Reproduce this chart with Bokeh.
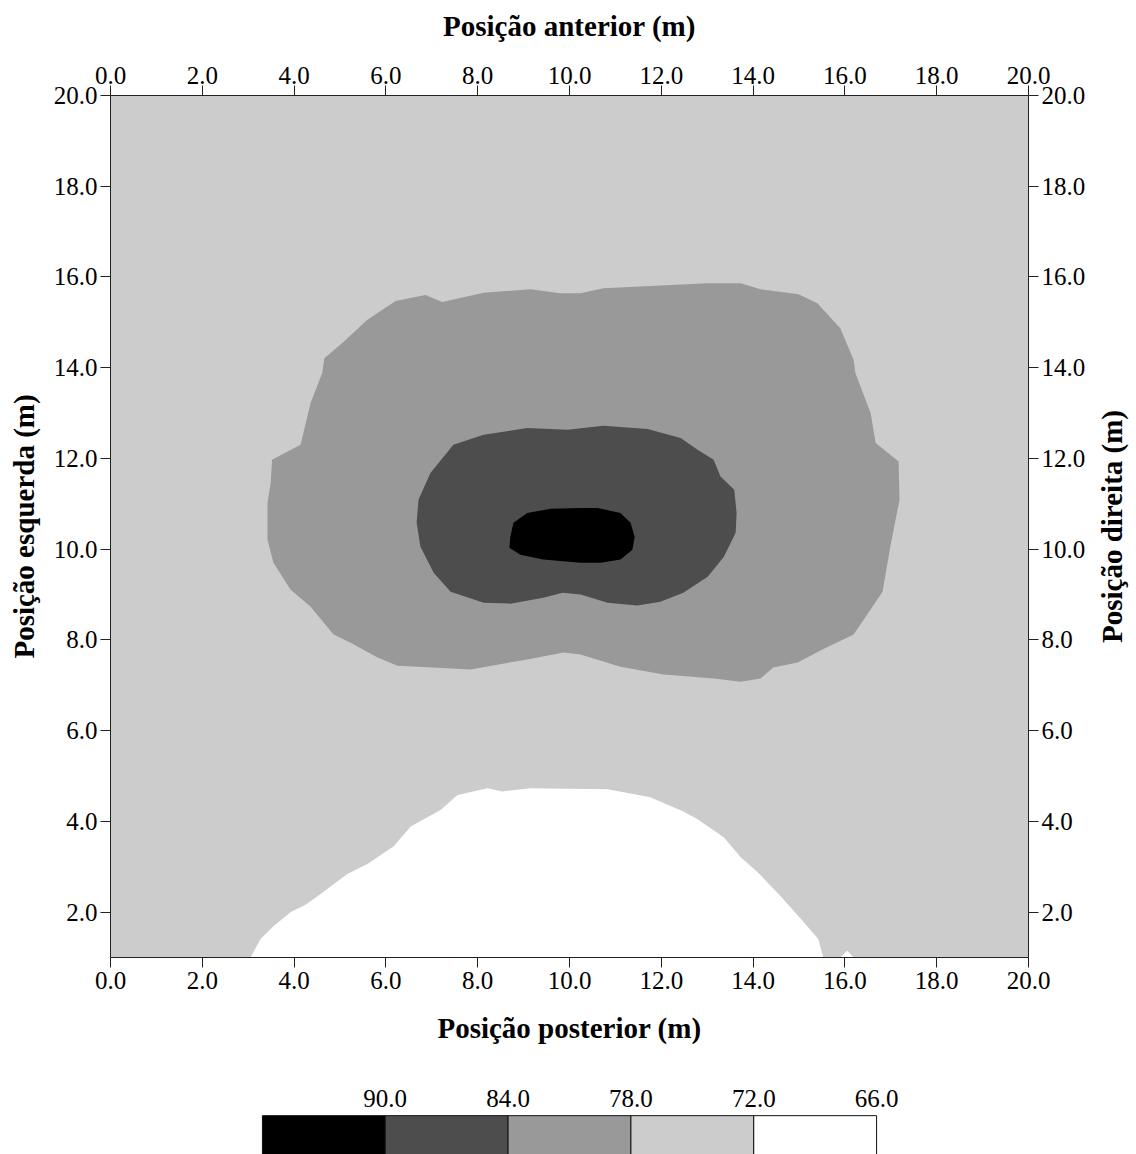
import math
from bokeh.plotting import figure
from bokeh.models import Range1d, LinearAxis, FixedTicker, PrintfTickFormatter
from bokeh.layouts import column, row
from bokeh.core.properties import value
from bokeh.embed import file_html
from bokeh.resources import INLINE

# ---------------- data ----------------
x_ticks = [0, 2, 4, 6, 8, 10, 12, 14, 16, 18, 20]
y_ticks = [2, 4, 6, 8, 10, 12, 14, 16, 18, 20]
x_domain = [0.0, 20.0]
y_domain = [1.0, 20.0]

# contour level colours
c_66_72 = "#ffffff"
c_72_78 = "#cccccc"
c_78_84 = "#999999"
c_84_90 = "#4d4d4d"
c_90_up = "#000000"

# region < 72 (white) boundaries
white_x = [3.05, 3.27, 3.55, 3.92, 4.25, 4.51, 5.16, 5.60, 6.17, 6.54, 7.19, 7.56, 8.21, 8.54,
           9.15, 10.83, 11.76, 12.48, 12.79, 13.36, 13.73, 14.10, 14.60, 15.10, 15.42, 15.53]
white_y = [1.00, 1.41, 1.69, 2.00, 2.16, 2.35, 2.84, 3.06, 3.45, 3.89, 4.25, 4.58, 4.73, 4.66,
           4.73, 4.71, 4.53, 4.22, 4.05, 3.65, 3.21, 2.88, 2.35, 1.78, 1.41, 1.00]
white2_x = [15.90, 16.05, 16.19]
white2_y = [1.00, 1.15, 1.00]

# region 78-84 boundary
mid_x = [3.52, 4.14, 4.36, 4.61, 4.66, 5.08, 5.59, 6.21, 6.86, 7.23, 8.13, 9.15, 9.80, 10.24,
         10.74, 13.01, 13.73, 14.16, 14.99, 15.40, 15.90, 16.19, 16.23, 16.56, 16.67, 17.17,
         17.19, 16.99, 16.82, 16.56, 16.19, 15.51, 14.97, 14.44, 14.16, 13.73, 13.14, 12.05,
         11.11, 10.24, 9.87, 9.08, 7.84, 6.69, 6.25, 5.82, 5.23, 4.86, 4.36, 3.92, 3.55, 3.42,
         3.42, 3.49]
mid_y = [11.97, 12.30, 13.22, 13.88, 14.21, 14.57, 15.05, 15.47, 15.60, 15.45, 15.65, 15.73,
         15.64, 15.64, 15.75, 15.86, 15.86, 15.73, 15.62, 15.42, 14.87, 14.17, 13.88, 13.00,
         12.34, 11.93, 11.09, 10.06, 9.06, 8.67, 8.12, 7.79, 7.50, 7.39, 7.15, 7.08, 7.15, 7.24,
         7.41, 7.68, 7.72, 7.57, 7.35, 7.41, 7.43, 7.61, 7.94, 8.12, 8.73, 9.11, 9.70, 10.21,
         11.02, 11.46]

# region 84-90 boundary
dark_x = [6.71, 6.97, 7.47, 8.13, 9.08, 9.96, 10.74, 11.70, 12.42, 12.79, 13.14, 13.29, 13.59,
          13.64, 13.62, 13.36, 13.01, 12.48, 11.98, 11.48, 10.83, 10.24, 9.85, 9.43, 8.71, 8.13,
          7.41, 7.04, 6.75, 6.67]
dark_y = [11.09, 11.68, 12.30, 12.52, 12.67, 12.63, 12.72, 12.65, 12.45, 12.19, 11.97, 11.60,
          11.31, 10.80, 10.36, 9.83, 9.39, 9.04, 8.84, 8.76, 8.82, 9.00, 9.04, 8.93, 8.80, 8.82,
          9.06, 9.48, 10.06, 10.58]

# region > 90 boundary
black_x = [8.69, 8.71, 8.78, 9.08, 9.59, 10.24, 10.61, 11.11, 11.33, 11.42, 11.37, 11.11, 10.68,
           10.24, 9.43, 8.93]
black_y = [10.03, 10.27, 10.58, 10.80, 10.89, 10.91, 10.91, 10.80, 10.58, 10.27, 9.99, 9.77,
           9.70, 9.70, 9.77, 9.88]

# colour bar
cb_edges = [96, 90, 84, 78, 72, 66]
cb_colors = [c_90_up, c_84_90, c_78_84, c_72_78, c_66_72]
cb_ticks = [90, 84, 78, 72, 66]

FONT = "Liberation Serif"
TICK_SIZE = "25px"
TITLE_SIZE = "29px"

SIDE_W = 40

# ---------------- main figure ----------------
p = figure(width=1136 - SIDE_W, height=1060,
           x_range=Range1d(x_domain[0], x_domain[1]),
           y_range=Range1d(y_domain[0], y_domain[1]),
           min_border_left=110, min_border_right=108 - SIDE_W,
           min_border_top=95, min_border_bottom=103,
           toolbar_location=None, output_backend="svg")
p.grid.visible = False
p.outline_line_color = None
p.background_fill_color = "white"
p.border_fill_color = "white"

p.quad(left=[x_domain[0]], right=[x_domain[1]], bottom=[y_domain[0]], top=[y_domain[1]],
       fill_color=c_72_78, line_color=None)
p.patches(xs=[white_x, white2_x, mid_x, dark_x, black_x],
          ys=[white_y, white2_y, mid_y, dark_y, black_y],
          fill_color=[c_66_72, c_66_72, c_78_84, c_84_90, c_90_up],
          line_color=None)

p.add_layout(LinearAxis(), "above")
p.add_layout(LinearAxis(), "right")

for ax in p.xaxis:
    ax.ticker = FixedTicker(ticks=x_ticks)
for ax in p.yaxis:
    ax.ticker = FixedTicker(ticks=y_ticks)

titles = {"below": "Posição posterior (m)", "above": "Posição anterior (m)",
          "left": "Posição esquerda (m)", "right": None}
standoffs = {"below": 20, "above": 22, "left": 11, "right": 6}
label_standoffs = {"below": 4, "above": 2, "left": 3, "right": 3}
for side in ["below", "above", "left", "right"]:
    for ax in getattr(p, side):
        ax.formatter = PrintfTickFormatter(format="%.1f")
        ax.axis_label = titles[side]
        ax.axis_label_text_font = FONT
        ax.axis_label_text_font_style = "bold"
        ax.axis_label_text_font_size = TITLE_SIZE
        ax.axis_label_text_color = "black"
        ax.axis_label_standoff = standoffs[side]
        ax.major_label_text_font = FONT
        ax.major_label_text_font_size = TICK_SIZE
        ax.major_label_text_color = "black"
        ax.major_label_standoff = label_standoffs[side]
        ax.major_tick_in = 0
        ax.major_tick_out = 10
        ax.minor_tick_line_color = None
        ax.axis_line_color = "#222222"
        ax.major_tick_line_color = "#222222"

# ---------------- right-hand title strip ----------------
side_fig = figure(width=SIDE_W, height=1060,
                  x_range=Range1d(0, 1), y_range=Range1d(y_domain[0], y_domain[1]),
                  min_border_left=0, min_border_right=0,
                  min_border_top=95, min_border_bottom=103,
                  x_axis_location=None, y_axis_location=None,
                  toolbar_location=None, output_backend="svg")
side_fig.grid.visible = False
side_fig.outline_line_color = None
side_fig.background_fill_color = "white"
side_fig.border_fill_color = "white"
side_fig.text(x=[0.38], y=[(y_domain[0] + y_domain[1]) / 2], text=["Posição direita (m)"],
              angle=math.pi / 2, text_align="center", text_baseline="middle",
              text_font=value(FONT), text_font_style="bold", text_font_size=TITLE_SIZE,
              text_color="black")

# ---------------- colour bar ----------------
cb = figure(width=1136, height=94,
            x_range=Range1d(103.42, 58.58),
            y_range=Range1d(0, 1.03),
            min_border_left=110, min_border_right=108,
            min_border_top=54, min_border_bottom=0,
            x_axis_location="above", y_axis_location=None,
            toolbar_location=None, output_backend="svg")
cb.grid.visible = False
cb.outline_line_color = None
cb.background_fill_color = "white"
cb.border_fill_color = "white"
cb.quad(left=cb_edges[:-1], right=cb_edges[1:], bottom=-0.3, top=1.0,
        fill_color=cb_colors, line_color="#111111", line_width=1)
cax = cb.xaxis[0]
cax.ticker = FixedTicker(ticks=cb_ticks)
cax.formatter = PrintfTickFormatter(format="%.1f")
cax.axis_line_color = None
cax.major_tick_line_color = None
cax.minor_tick_line_color = None
cax.major_tick_in = 0
cax.major_tick_out = 0
cax.major_label_standoff = 8
cax.major_label_text_font = FONT
cax.major_label_text_font_size = TICK_SIZE
cax.major_label_text_color = "black"

layout = column(row(p, side_fig, spacing=0), cb, spacing=0)
open("out.html", "w").write(file_html(layout, INLINE))
